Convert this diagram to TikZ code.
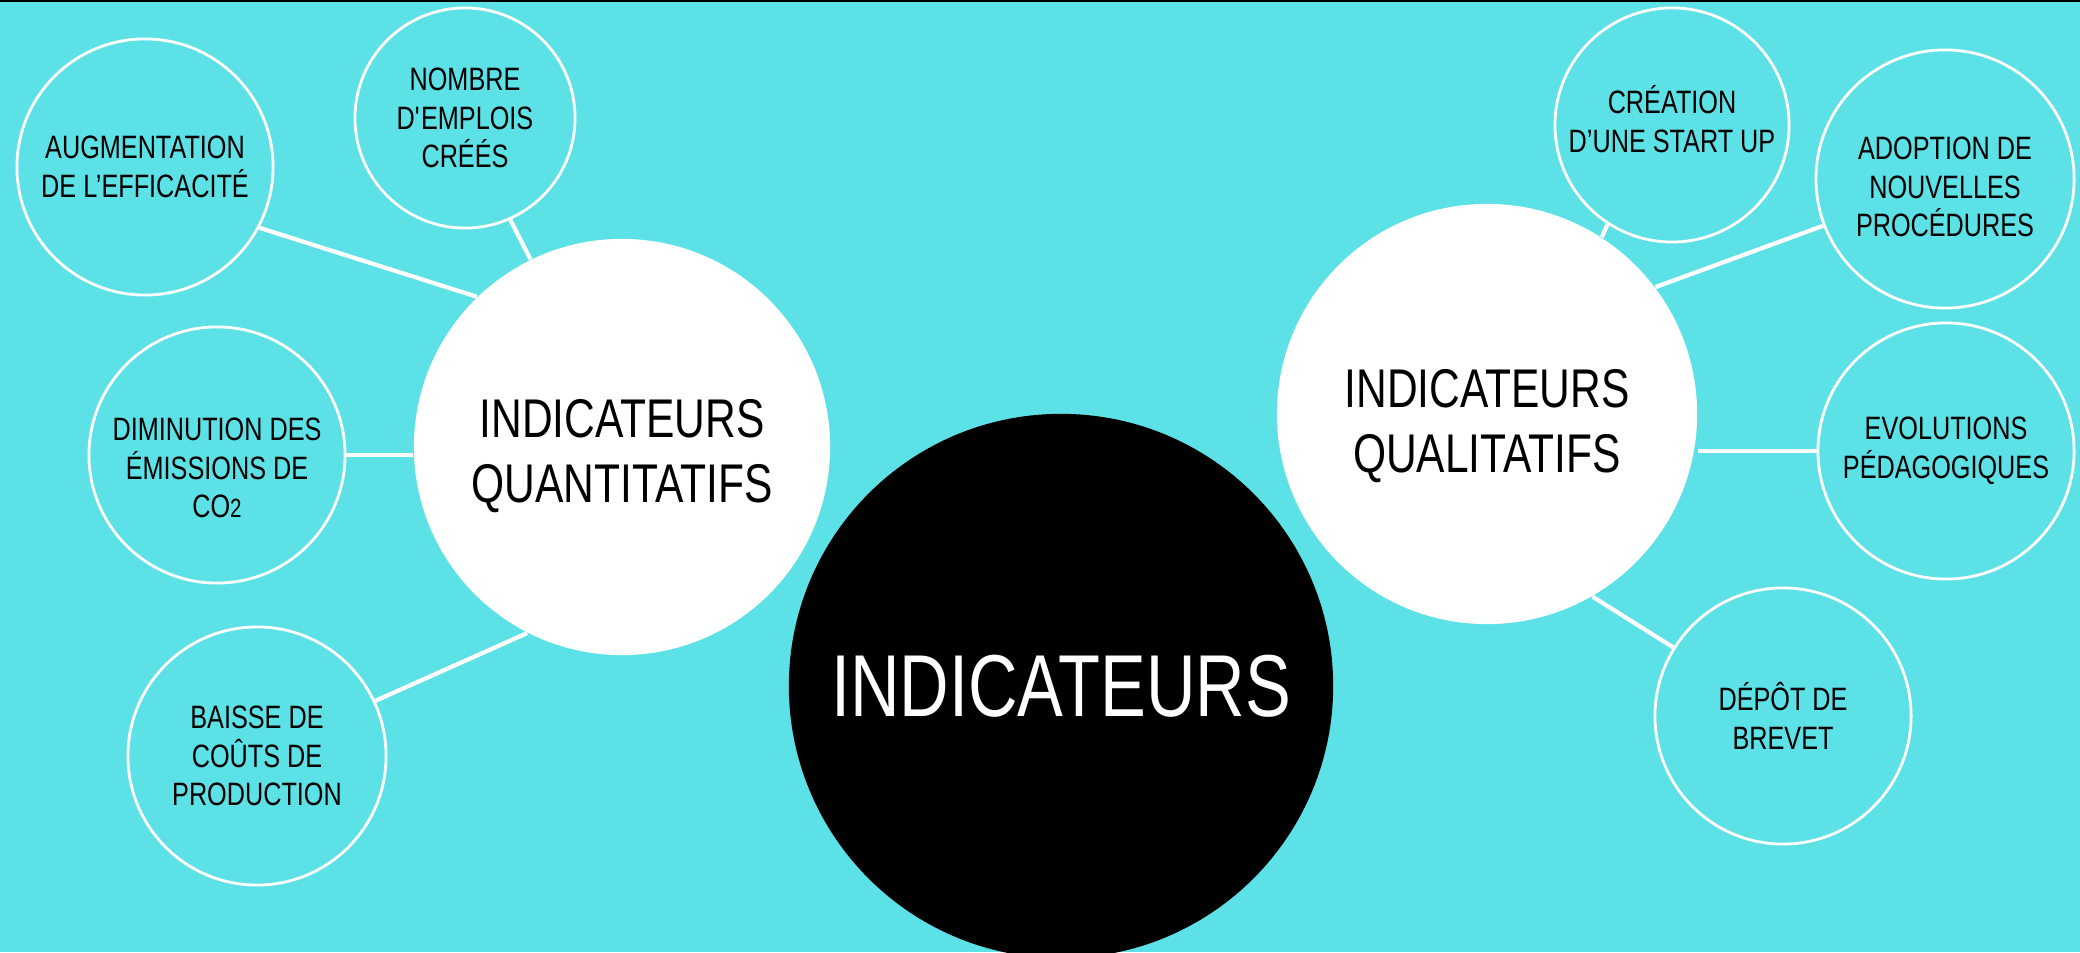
\documentclass[tikz,border=0pt]{standalone}
\usepackage{fontspec}
\setmainfont[FakeStretch=0.78]{Liberation Sans}
\usepackage{tikz}
\definecolor{bgcyan}{RGB}{92,225,230}

\begin{document}
\begin{tikzpicture}[x=0.01cm,y=-0.01cm,
    smallcirc/.style={circle,draw=white,line width=0.8pt,fill=bgcyan,align=center,
        font=\fontsize{9.2}{11}\selectfont,inner sep=0pt},
    bigcirc/.style={circle,fill=white,align=center,
        font=\fontsize{15.5}{18.4}\selectfont,inner sep=0pt},
    txt/.style={align=center,font=\fontsize{9.2}{11}\selectfont},
    bigtxt/.style={align=center,font=\fontsize{15.5}{18.4}\selectfont},
    link/.style={draw=white,line width=1.2pt}]
    % background
    \useasboundingbox (0,0) rectangle (2080,952);
    \clip (0,0) rectangle (2080,952);
    \fill[bgcyan] (0,0) rectangle (2080,952);
    \fill[black] (0,0) rectangle (2080,2);

    % draw main nodes
    \node[circle,fill=black,minimum size=5.44cm,text=white,
        font=\fontsize{25}{30}\selectfont] (ind) at (1061,686) {INDICATEURS};
    \node[bigcirc,minimum size=4.16cm] (quant) at (622,447) {};
    \node[bigtxt] (quanttext) at (622,456) {INDICATEURS\\QUANTITATIFS};
    \node[bigcirc,minimum size=4.2cm] (qual) at (1487,414) {};
    \node[bigtxt] (qualtext) at (1487,426) {INDICATEURS\\QUALITATIFS};

    % draw left nodes
    \node[smallcirc,minimum size=2.56cm] (aug) at (145,167) {AUGMENTATION\\DE L'EFFICACIT\'E};
    \node[smallcirc,minimum size=2.2cm] (nomb) at (465,118) {NOMBRE\\D\textquotesingle EMPLOIS\\CR\'E\'ES};
    \node[smallcirc,minimum size=2.56cm] (dimi) at (217,455) {};
    \node[txt] (dimitext) at (217,468)
        {DIMINUTION DES\\\'EMISSIONS DE\\CO{\fontsize{7.5}{9}\selectfont 2}};
    \node[smallcirc,minimum size=2.58cm] (baisse) at (257,756) {BAISSE DE\\CO\^UTS DE\\PRODUCTION};

    % draw right nodes
    \node[smallcirc,minimum size=2.34cm] (crea) at (1672,125) {};
    \node[txt] (creatext) at (1672,119) {CR\'EATION\\D'UNE START UP};
    \node[smallcirc,minimum size=2.58cm] (adop) at (1945,179) {};
    \node[txt] (adoptext) at (1945,187) {ADOPTION DE\\NOUVELLES\\PROC\'EDURES};
    \node[smallcirc,minimum size=2.56cm] (evol) at (1946,451) {EVOLUTIONS\\P\'EDAGOGIQUES};
    \node[smallcirc,minimum size=2.56cm] (depot) at (1783,716) {D\'EP\^OT DE\\BREVET};

    % draw links
    \draw[link] (aug.-28) -- (quant.134);
    \draw[link] (nomb.-66) -- (quant.116);
    \draw[link] (dimi.east) -- (dimi.east -| quant.west);
    \draw[link] (baisse.25) -- (quant.243);
    \draw[link] (crea.237) -- (qual.57);
    \draw[link] (adop.201) -- (qual.37);
    \draw[link] (evol.west) -- (evol.west -| qual.east);
    \draw[link] (depot.148) -- (qual.300);
\end{tikzpicture}
\end{document}
